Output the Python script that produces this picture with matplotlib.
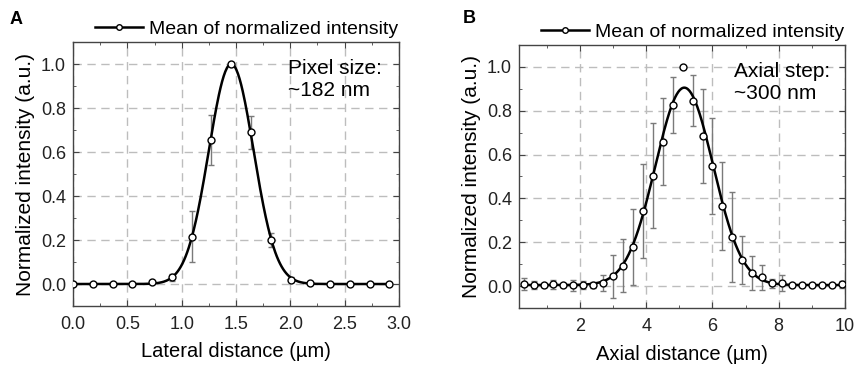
import numpy as np
import matplotlib
matplotlib.use("Agg")
import matplotlib.pyplot as plt
from matplotlib.lines import Line2D
from matplotlib.ticker import MultipleLocator

plt.rcParams.update(
    {
        "font.family": ["Liberation Sans", "DejaVu Sans"],
        "axes.edgecolor": "#444444",
        "axes.linewidth": 1.0,
        "xtick.direction": "in",
        "ytick.direction": "in",
        "xtick.top": True,
        "ytick.right": True,
        "xtick.color": "#444444",
        "ytick.color": "#444444",
        "xtick.labelcolor": "#222222",
        "ytick.labelcolor": "#222222",
    }
)

# Panel A: lateral profile (pixel size ~182 nm)
lat_x = [0.0, 0.182, 0.364, 0.546, 0.728, 0.91, 1.092, 1.274, 1.456,
         1.638, 1.82, 2.002, 2.184, 2.366, 2.548, 2.73, 2.912]
lat_y = [0.0, 0.0, 0.0, 0.0, 0.008, 0.03, 0.215, 0.655, 1.0,
         0.69, 0.2, 0.02, 0.003, 0.001, 0.0, 0.0, 0.0]
lat_err = [0.0, 0.0, 0.0, 0.0, 0.003, 0.015, 0.115, 0.112, 0.0,
           0.075, 0.032, 0.01, 0.0, 0.0, 0.0, 0.0, 0.0]
# gaussian fit parameters: offset, amplitude, centre, sigma
lat_fit = (0.0, 1.0, 1.456, 0.206)

# Panel B: axial profile (axial step ~300 nm)
ax_x = [0.3, 0.6, 0.9, 1.2, 1.5, 1.8, 2.1, 2.4, 2.7, 3.0, 3.3, 3.6, 3.9,
        4.2, 4.5, 4.8, 5.1, 5.4, 5.7, 6.0, 6.3, 6.6, 6.9, 7.2, 7.5, 7.8,
        8.1, 8.4, 8.7, 9.0, 9.3, 9.6, 9.9]
ax_y = [0.009, 0.005, 0.003, 0.008, 0.003, 0.005, 0.005, 0.005, 0.014,
        0.044, 0.093, 0.178, 0.344, 0.504, 0.659, 0.825, 1.0, 0.846,
        0.685, 0.549, 0.367, 0.225, 0.12, 0.059, 0.04, 0.012, 0.015,
        0.006, 0.003, 0.003, 0.003, 0.005, 0.008]
ax_err = [0.026, 0.02, 0.005, 0.02, 0.005, 0.025, 0.02, 0.015, 0.035,
          0.097, 0.12, 0.175, 0.215, 0.24, 0.2, 0.127, 0.0, 0.115,
          0.214, 0.218, 0.2, 0.204, 0.11, 0.077, 0.057, 0.02, 0.035,
          0.005, 0.004, 0.004, 0.004, 0.006, 0.015]
ax_fit = (0.005, 0.9, 5.15, 0.87)

GRID = "#bdbdbd"
ERR = "#7a7a7a"


def gauss(x, p):
    y0, a, xc, s = p
    return y0 + a * np.exp(-(x - xc) ** 2 / (2 * s ** 2))


def draw_panel(ax, x, y, err, fit, xlim, xmaj, xmin, xlabel, note, letter, lpos):
    ax.set_axisbelow(True)
    ax.grid(True, color=GRID, linestyle=(0, (6, 4)), linewidth=1.0)
    ax.errorbar(x, y, yerr=err, fmt="none", ecolor=ERR, elinewidth=1.0,
                capsize=2.5, capthick=1.0, zorder=2)
    xs = np.linspace(x[0], x[-1], 400)
    ax.plot(xs, gauss(xs, fit), color="black", lw=1.8, zorder=3)
    ax.plot(x, y, "o", ms=5, mfc="white", mec="black", mew=1.0, zorder=4)

    ax.set_xlim(*xlim)
    ax.set_ylim(-0.1, 1.1)
    ax.xaxis.set_major_locator(MultipleLocator(xmaj))
    ax.xaxis.set_minor_locator(MultipleLocator(xmin))
    ax.yaxis.set_major_locator(MultipleLocator(0.2))
    ax.yaxis.set_minor_locator(MultipleLocator(0.1))
    ax.tick_params(which="both", top=True, right=True, labelsize=13)
    ax.tick_params(which="major", length=4)
    ax.tick_params(axis="x", which="major", pad=7)
    ax.tick_params(axis="y", which="major", pad=5)
    ax.tick_params(which="minor", length=2.5)
    ax.set_xlabel(xlabel, fontsize=14.5, labelpad=7)
    ax.set_ylabel("Normalized intensity (a.u.)", fontsize=15, labelpad=4)

    ax.text(0.66, 0.935, note, transform=ax.transAxes, fontsize=15,
            va="top", ha="left", linespacing=1.2)

    handle = Line2D([], [], color="black", lw=1.8, marker="o", ms=4,
                    mfc="white", mec="black")
    ax.legend([handle], ["Mean of normalized intensity"], loc="lower right",
              bbox_to_anchor=(1.01, 1.0), frameon=False, fontsize=14,
              handlelength=2.5, handletextpad=0.3, borderaxespad=0.1,
              borderpad=0.1)
    ax.text(lpos[0], lpos[1], letter, transform=ax.transAxes, fontsize=13,
            fontweight="bold", va="center", ha="left")


fig = plt.figure(figsize=(8.56, 3.65), dpi=100)
ax1 = fig.add_axes([0.0853, 0.1616, 0.3808, 0.7233])
ax2 = fig.add_axes([0.6063, 0.156, 0.3808, 0.721])

draw_panel(ax1, lat_x, lat_y, lat_err, lat_fit, (0.0, 3.0), 0.5, 0.25,
           "Lateral distance (µm)", "Pixel size:\n~182 nm", "A", (-0.195, 1.087))
draw_panel(ax2, ax_x, ax_y, ax_err, ax_fit, (0.16, 10.0), 2, 1,
           "Axial distance (µm)", "Axial step:\n~300 nm", "B", (-0.172, 1.10))

fig.savefig("out.png", dpi=100)
